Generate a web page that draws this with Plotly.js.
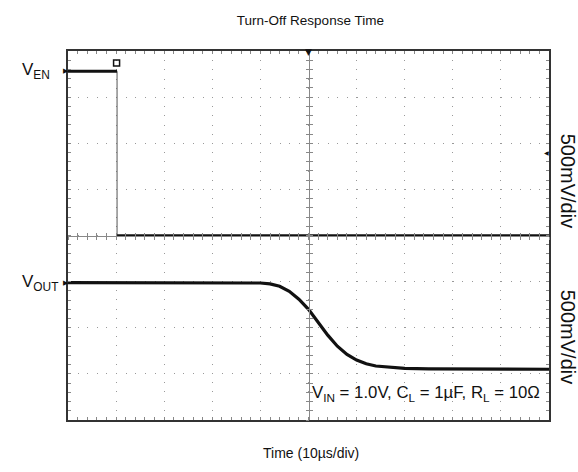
<!DOCTYPE html>
<html>
<head>
<meta charset="utf-8">
<script src="https://cdn.plot.ly/plotly-3.0.1.min.js"></script>
<style>html,body{margin:0;padding:0;background:#fff;}#chart{width:578px;height:472px;}</style>
</head>
<body>
<div id="chart"></div>
<script>
// ---- data (time in µs, 10 µs/div; voltage in V, 500 mV/div) ----
const venHighTime = [0, 10.2];
const venHighVolt = [1.78, 1.78];
const venEdgeTime = [10.2, 10.2];
const venEdgeVolt = [1.78, 0];
const venLowTime = [10.2, 100];
const venLowVolt = [0, 0];

const voutTime = [0, 30, 40, 42, 44, 46, 48, 50, 52, 54, 56, 58, 60, 62, 64, 67, 70, 75, 85, 100];
const voutVolt = [-0.51, -0.51, -0.515, -0.525, -0.55, -0.605, -0.69, -0.80, -0.94, -1.08, -1.20, -1.29, -1.35, -1.39, -1.415, -1.43, -1.44, -1.445, -1.45, -1.45];

const channelNames = ['V<sub>EN</sub>', 'V<sub>OUT</sub>'];
const channelLevels = [1.78, -0.51];
const scaleLabels = ['500mV/div', '500mV/div'];
const offsetLevel = 0.9;
const glyphTime = [10.1];
const glyphVolt = [1.87];

const timeRange = [0, 100];
const voltRange = [-2, 2];

const font = 'Liberation Sans, Arial, sans-serif';
const black = '#111';

const traces = [
  {x: voutTime, y: voutVolt, xaxis: 'x', yaxis: 'y', mode: 'lines', line: {color: black, width: 3.2}, hoverinfo: 'skip', showlegend: false},
  {x: venHighTime, y: venHighVolt, xaxis: 'x2', yaxis: 'y', mode: 'lines', line: {color: black, width: 3}, hoverinfo: 'skip', showlegend: false},
  {x: venEdgeTime, y: venEdgeVolt, xaxis: 'x', yaxis: 'y3', mode: 'lines', line: {color: '#555', width: 1}, hoverinfo: 'skip', showlegend: false},
  {x: venLowTime, y: venLowVolt, xaxis: 'x3', yaxis: 'y', mode: 'lines', line: {color: black, width: 2.6}, hoverinfo: 'skip', showlegend: false},
  {x: glyphTime, y: glyphVolt, xaxis: 'x', yaxis: 'y2', mode: 'markers', cliponaxis: false,
   marker: {symbol: 'square-open', size: 6, color: black, line: {width: 1.5, color: black}}, hoverinfo: 'skip', showlegend: false}
];

const centerX = (ticks) => ({
  overlaying: 'x', anchor: 'free', position: 0.5, range: timeRange, dtick: 2,
  showline: true, linecolor: '#888', linewidth: 1, ticks: ticks, ticklen: 3, tickcolor: '#888', tickwidth: 1,
  showticklabels: false, showgrid: false, zeroline: false, fixedrange: true
});
const centerY = (ticks) => ({
  overlaying: 'y', anchor: 'free', position: 0.5, range: voltRange, dtick: 0.1,
  showline: true, linecolor: '#888', linewidth: 1, ticks: ticks, ticklen: 3, tickcolor: '#888', tickwidth: 1,
  showticklabels: false, showgrid: false, zeroline: false, fixedrange: true
});

const annotations = [
  {text: channelNames[0], xref: 'paper', yref: 'y', x: -0.1, y: channelLevels[0], xanchor: 'left', yanchor: 'middle', showarrow: false, font: {family: font, size: 17, color: black}},
  {text: channelNames[1], xref: 'paper', yref: 'y', x: -0.1, y: channelLevels[1], xanchor: 'left', yanchor: 'middle', showarrow: false, font: {family: font, size: 17, color: black}},
  {text: '▶', xref: 'paper', yref: 'y', x: 0, y: channelLevels[0], xanchor: 'right', yanchor: 'middle', xshift: 3, showarrow: false, font: {family: 'DejaVu Sans', size: 7, color: black}},
  {text: '▶', xref: 'paper', yref: 'y', x: 0, y: channelLevels[1], xanchor: 'right', yanchor: 'middle', xshift: 3, showarrow: false, font: {family: 'DejaVu Sans', size: 7, color: black}},
  {text: '▼', xref: 'paper', yref: 'paper', x: 0.5, y: 1, xanchor: 'center', yanchor: 'middle', yshift: -1, showarrow: false, font: {family: 'DejaVu Sans', size: 9, color: black}},
  {text: '◀', xref: 'paper', yref: 'y', x: 1, y: offsetLevel, xanchor: 'right', yanchor: 'middle', xshift: 2, showarrow: false, font: {family: 'DejaVu Sans', size: 6, color: black}},
  {text: scaleLabels[0], xref: 'paper', yref: 'paper', x: 1.04, y: 0.648, textangle: 90, xanchor: 'center', yanchor: 'middle', showarrow: false, font: {family: font, size: 20, color: black}},
  {text: scaleLabels[1], xref: 'paper', yref: 'paper', x: 1.04, y: 0.225, textangle: 90, xanchor: 'center', yanchor: 'middle', showarrow: false, font: {family: font, size: 20, color: black}},
  {text: 'V<sub>IN</sub> = 1.0V, C<sub>L</sub> = 1µF, R<sub>L</sub> = 10Ω', xref: 'paper', yref: 'paper', x: 0.503, y: 0.073, xanchor: 'left', yanchor: 'middle', showarrow: false, font: {family: font, size: 16.8, color: black}},
  {text: 'Time (10µs/div)', xref: 'paper', yref: 'paper', x: 0.505, y: -0.09, xanchor: 'center', yanchor: 'middle', showarrow: false, font: {family: font, size: 14, color: black}}
];

const layout = {
  width: 578, height: 472,
  margin: {l: 68, r: 29, t: 51, b: 52},
  paper_bgcolor: '#fff', plot_bgcolor: '#fff',
  title: {text: 'Turn-Off Response Time', x: 0.537, xanchor: 'center', y: 0.958, yanchor: 'middle', yref: 'container', font: {family: font, size: 13.5, color: black}},
  xaxis: {
    range: timeRange, dtick: 10, showticklabels: false, zeroline: false, fixedrange: true,
    showgrid: true, gridcolor: '#999', gridwidth: 1, griddash: '1px,8.2px',
    showline: true, linecolor: '#333', linewidth: 2, mirror: 'allticks',
    ticks: 'inside', ticklen: 3, tickcolor: '#888', tickwidth: 1,
    minor: {dtick: 2, ticks: 'inside', ticklen: 3, tickcolor: '#888', tickwidth: 1, showgrid: false}
  },
  yaxis: {
    range: voltRange, dtick: 0.5, showticklabels: false, zeroline: false, fixedrange: true,
    showgrid: true, gridcolor: '#999', gridwidth: 1, griddash: '1px,8.62px',
    showline: true, linecolor: '#333', linewidth: 2, mirror: 'allticks',
    ticks: 'inside', ticklen: 3, tickcolor: '#888', tickwidth: 1,
    minor: {dtick: 0.1, ticks: 'inside', ticklen: 3, tickcolor: '#888', tickwidth: 1, showgrid: false}
  },
  xaxis2: centerX('inside'),
  xaxis3: centerX('outside'),
  yaxis2: centerY('inside'),
  yaxis3: centerY('outside'),
  annotations: annotations,
  showlegend: false
};

Plotly.newPlot('chart', traces, layout, {staticPlot: true, displayModeBar: false});
</script>
</body>
</html>
